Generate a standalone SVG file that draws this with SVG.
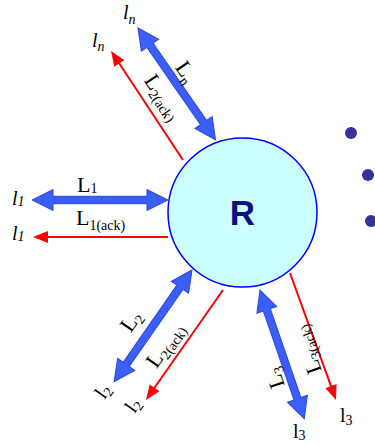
<svg xmlns="http://www.w3.org/2000/svg" xmlns:xlink="http://www.w3.org/1999/xlink" width="375" height="445" viewBox="0 0 375 445">
<style>
.blue{fill:#3c5ffa;stroke:#2a45e0;stroke-width:1}
.red{stroke:#ff0000;stroke-width:2;fill:none;marker-end:url(#rh)}
.lab{font-family:"Liberation Serif",serif;font-size:22px;fill:#000}
.sub{font-size:14px}
.end{font-family:"Liberation Serif",serif;font-size:20px;fill:#000}
.it{font-style:italic}
.dot{fill:#333399}
</style>
<defs>
<polygon id="dbl" points="0,0 21,-10.5 21,-3.7 115,-3.7 115,-10.5 136,0 115,10.5 115,3.7 21,3.7 21,10.5"/>
<marker id="rh" viewBox="0 0 15 12" refX="12" refY="6" markerWidth="15" markerHeight="12" markerUnits="userSpaceOnUse" orient="auto">
<path d="M0,0 L15,6 L0,12 z" fill="#ff0000"/>
</marker>
</defs>
<g id="node-R">
<circle cx="242.5" cy="212.5" r="74.5" fill="#ccffff" stroke="#0000ff" stroke-width="1.5"/>
<text x="242.5" y="225" text-anchor="middle" font-family="Liberation Sans, Arial, sans-serif" font-weight="bold" font-size="35" fill="#10107a">R</text>
</g>
<g id="dots">
<circle class="dot" cx="351" cy="133" r="6"/>
<circle class="dot" cx="368" cy="175" r="6"/>
<circle class="dot" cx="371" cy="221" r="6"/>
</g>
<g id="connectors">
<use xlink:href="#dbl" class="blue" transform="translate(138,28) rotate(55.25)"/>
<use xlink:href="#dbl" class="blue" transform="translate(32,200)"/>
<use xlink:href="#dbl" class="blue" transform="translate(192,270) rotate(124.9)"/>
<use xlink:href="#dbl" class="blue" transform="translate(260,290) rotate(71)"/>
<line class="red" x1="183" y1="160" x2="112.7" y2="53.5"/>
<line class="red" x1="168" y1="237" x2="36" y2="237"/>
<line class="red" x1="223" y1="290" x2="147.7" y2="397.5"/>
<line class="red" x1="290" y1="273" x2="335" y2="397.2"/>
</g>
<g id="connector-labels">
<text class="lab" x="77" y="192">L<tspan class="sub" dy="1">1</tspan></text>
<text class="lab" x="76" y="225">L<tspan class="sub" dy="5">1(ack)</tspan></text>
<text class="lab" text-anchor="middle" transform="translate(186,72) rotate(55.25)" y="7">L<tspan class="sub" dy="4">n</tspan></text>
<text class="lab" text-anchor="middle" transform="translate(163,97) rotate(56)" y="7">L<tspan class="sub" dy="4">2(ack)</tspan></text>
<text class="lab" text-anchor="middle" transform="translate(131,321) rotate(-55)" y="7">L<tspan class="sub" dy="4">2</tspan></text>
<text class="lab" text-anchor="middle" transform="translate(165,345) rotate(-55)" y="7">L<tspan class="sub" dy="4">2(ack)</tspan></text>
<text class="lab" text-anchor="middle" transform="translate(275,378) rotate(-109)" y="7">L<tspan class="sub" dy="4">3</tspan></text>
<text class="lab" text-anchor="middle" transform="translate(307,350) rotate(-110)" y="7">L<tspan class="sub" dy="4">3(ack)</tspan></text>
</g>
<g id="endpoints">
<text class="end it" x="12" y="205">l<tspan class="sub" dy="1">1</tspan></text>
<text class="end it" x="12" y="240">l<tspan class="sub" dy="1">1</tspan></text>
<text class="end it" x="123" y="19" font-size="18">l<tspan class="sub" dy="5">n</tspan></text>
<text class="end it" x="92" y="47" font-size="18">l<tspan class="sub" dy="4">n</tspan></text>
<text class="end" text-anchor="middle" transform="translate(104,392) rotate(-55)" y="5">l<tspan class="sub" dy="3">2</tspan></text>
<text class="end" text-anchor="middle" transform="translate(134,406) rotate(-55)" y="5">l<tspan class="sub" dy="3">2</tspan></text>
<text class="end" x="293" y="438">l<tspan class="sub" dy="2">3</tspan></text>
<text class="end" x="340" y="422">l<tspan class="sub" dy="3">3</tspan></text>
</g>
</svg>
